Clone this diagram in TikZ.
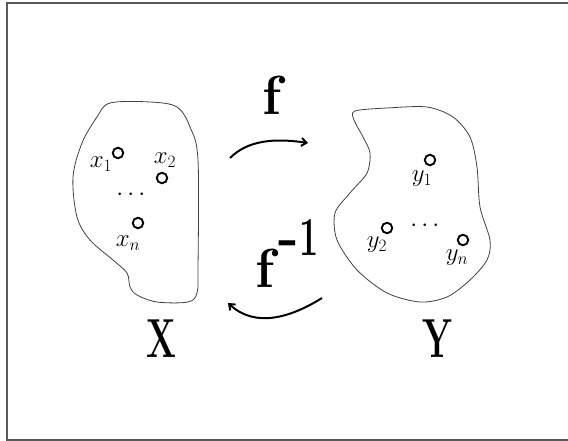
\documentclass[tikz,border=0pt]{standalone}
\usepackage{amsmath,amssymb}
\usepackage{tikz}
\usetikzlibrary{
arrows.meta,
positioning,
calc
}

\tikzset{
    point/.style={
        circle,
        draw,
        line width=1.9pt,
        minimum size=10.5pt,
        inner sep=0pt
    },
    ptlabel/.style={
        font=\fontsize{24}{26}\selectfont,
        inner sep=0pt
    },
    bigtext/.style={
        font=\fontsize{55}{60}\selectfont\bfseries,
        inner sep=0pt
    },
    blob/.style={
        draw=black!75,
        line width=0.8pt
    },
    maparrow/.style={
        line width=2pt,
        -{Straight Barb[length=5pt,width=8pt]}
    }
}

% narrow glyphs of the set names
\newcommand{\narrow}[2]{\scalebox{#1}[1]{#2}}

\begin{document}
\begin{tikzpicture}[
    x=1pt,
    y=-1pt
]

\useasboundingbox (0,0) rectangle (568,441);

% Frame
\draw[
    black!65,
    line width=2pt
]
(575,3) -- (7,3) -- (7,440) -- (575,440);

% =========================
% SET X
% =========================
\draw[blob]
plot[smooth cycle, tension=0.55] coordinates {
(82,143) (73,177) (77,217) (90,240) (113,260) (127,273)
(130,287) (137,295) (157,302) (188,302) (197,293) (198,270)
(198,160) (190,127) (177,107) (150,102) (110,103) (97,117)
};

\node[point] (x1) at (118,153) {};
\node[point] (x2) at (162,178) {};
\node[point] (xn) at (138,223) {};

\node[ptlabel] (lx1) at (101,164) {$x_1$};
\node[ptlabel] (lx2) at (165,160) {$x_2$};
\node[ptlabel] (ldx) at (133,195) {$\cdots$};
\node[ptlabel] (lxn) at (128,243) {$x_n$};

% =========================
% SET Y
% =========================
\draw[blob]
plot[smooth cycle, tension=0.5] coordinates {
(355,111) (387,108) (427,107) (453,117) (470,137) (477,167)
(480,207) (490,240) (487,260) (470,280) (447,297) (420,302)
(387,293) (357,270) (337,240) (335,213) (350,193) (367,173)
(370,153) (363,137) (354,120)
};

\node[point] (y1) at (430,160) {};
\node[point] (y2) at (387,228) {};
\node[point] (yn) at (463,240) {};

\node[ptlabel] (ly1) at (422,179) {$y_1$};
\node[ptlabel] (ly2) at (377,245) {$y_2$};
\node[ptlabel] (ldy) at (427,226) {$\cdots$};
\node[ptlabel] (lyn) at (457,258) {$y_n$};

% =========================
% MAP f
% =========================
\coordinate (fStart) at (230,158);
\coordinate (fEnd) at (308,143);

\draw[maparrow]
(fStart) .. controls (248,140) and (275,138) .. (fEnd);

\node[
    bigtext,
    anchor=base
]
(flabel) at (272,115)
{f};

% =========================
% MAP f^-1
% =========================
\coordinate (gStart) at (322,298);
\coordinate (gEnd) at (228,303);

\draw[maparrow]
(gStart) .. controls (290,318) and (255,328) .. (gEnd);

\node[
    bigtext,
    anchor=base west
]
(finvlabel) at (255,287)
{f\kern4pt\raisebox{32pt}{-\kern1pt\narrow{0.62}{1}}};

% Set names
\node[
    bigtext,
    anchor=base
]
(Xname) at (161,357)
{\narrow{0.64}{X}};

\node[
    bigtext,
    anchor=base
]
(Yname) at (437,357)
{\narrow{0.64}{Y}};

\end{tikzpicture}
\end{document}
